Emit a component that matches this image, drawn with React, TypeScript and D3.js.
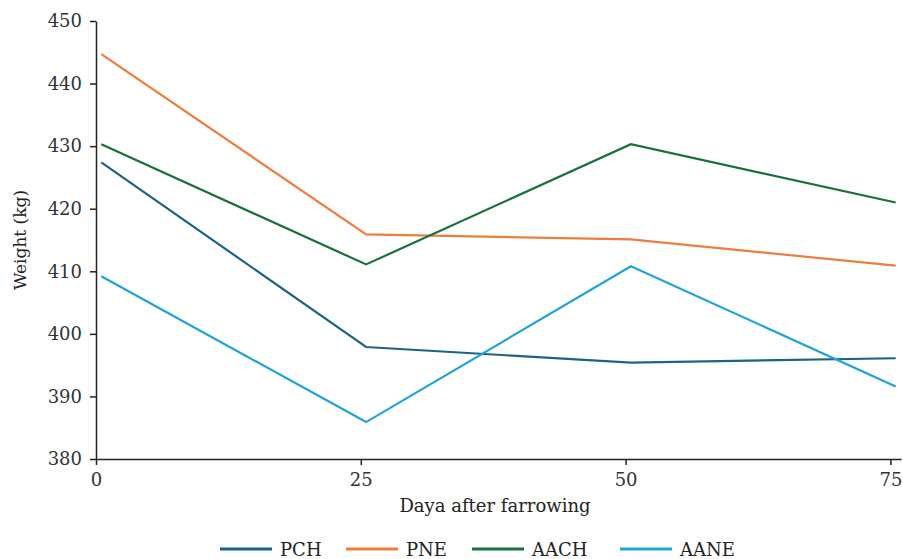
import React, { useRef, useEffect } from "react";
import * as d3 from "d3";

// days after farrowing
const days = [0.5, 25.5, 50.5, 75.5];
const pch = [427.4, 397.9, 395.4, 396.1];
const pne = [444.7, 415.9, 415.1, 410.9];
const aach = [430.3, 411.1, 430.3, 421.0];
const aane = [409.2, 385.9, 410.8, 391.6];
const seriesNames = ["PCH", "PNE", "AACH", "AANE"];
const seriesColors = ["#1d6387", "#f07d40", "#19703b", "#1ea3da"];
const xTicks = [0, 25, 50, 75];
const yTicks = [380, 390, 400, 410, 420, 430, 440, 450];

const W = 903;
const H = 559;
const FONT = "DejaVu Serif";

const App = () => {
  const ref = useRef<SVGSVGElement>(null);

  useEffect(() => {
    if (!ref.current) return;
    const svg = d3.select(ref.current);
    svg.selectAll("*").remove();

    const margin = { left: 96, right: 2, top: 21, bottom: 100 };
    const x = d3.scaleLinear().domain([0, 76]).range([margin.left, W - margin.right]);
    const y = d3.scaleLinear().domain([380, 450]).range([H - margin.bottom, margin.top]);

    const all = [pch, pne, aach, aane];

    // axes
    const xa = svg
      .append("g")
      .attr("transform", `translate(0,${y(380)})`)
      .call(d3.axisBottom(x).tickValues(xTicks).tickSize(6).tickSizeOuter(0).tickPadding(8));
    const ya = svg
      .append("g")
      .attr("transform", `translate(${x(0)},0)`)
      .call(d3.axisLeft(y).tickValues(yTicks).tickSize(6).tickSizeOuter(0).tickPadding(8));
    [xa, ya].forEach((a) => {
      a.selectAll("path, line").attr("stroke", "#222").attr("stroke-width", 1.5);
      a.selectAll("text").attr("font-family", FONT).attr("font-size", 18).attr("fill", "#333");
    });

    // lines
    const line = d3
      .line<number>()
      .x((_, i) => x(days[i]))
      .y((d) => y(d));
    all.forEach((vals, i) => {
      svg
        .append("path")
        .datum(vals)
        .attr("d", line)
        .attr("fill", "none")
        .attr("stroke", seriesColors[i])
        .attr("stroke-width", 2.2);
    });

    // labels
    svg
      .append("text")
      .attr("x", 495)
      .attr("y", 512)
      .attr("text-anchor", "middle")
      .attr("font-family", FONT)
      .attr("font-size", 18)
      .attr("fill", "#222")
      .text("Daya after farrowing");
    svg
      .append("text")
      .attr("transform", `translate(26,240) rotate(-90)`)
      .attr("text-anchor", "middle")
      .attr("font-family", FONT)
      .attr("font-size", 17)
      .attr("fill", "#222")
      .text("Weight (kg)");

    // legend
    const legX = [220, 346, 472, 620];
    seriesNames.forEach((name, i) => {
      const g = svg.append("g").attr("transform", `translate(${legX[i]},549)`);
      g.append("line")
        .attr("x1", 0)
        .attr("x2", 52)
        .attr("stroke", seriesColors[i])
        .attr("stroke-width", 3);
      g.append("text")
        .attr("x", 60)
        .attr("y", 7)
        .attr("font-family", FONT)
        .attr("font-size", 18)
        .attr("fill", "#222")
        .text(name);
    });
  }, []);

  return (
    <svg
      ref={ref}
      width={W}
      height={H}
      style={{ position: "absolute", left: 0, top: 0, background: "#fff" }}
    />
  );
};

export default App;
